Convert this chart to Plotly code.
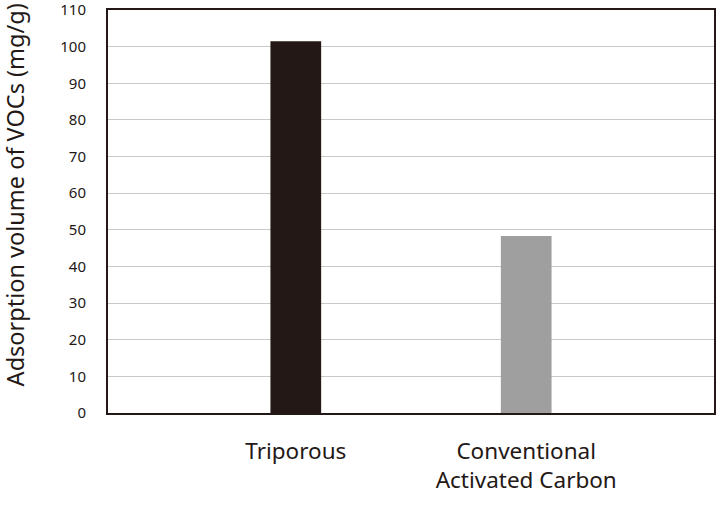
import plotly.graph_objects as go

categories = ["Triporous", "Conventional<br>Activated Carbon"]
values = [101.5, 48.3]
bar_colors = ["#231815", "#9f9f9f"]
y_ticks = [0, 10, 20, 30, 40, 50, 60, 70, 80, 90, 100, 110]
y_title = "Adsorption volume of VOCs (mg/g)"

FONT = "Noto Sans"
TXT = "#231815"

fig = go.Figure(go.Bar(
    x=[0, 1], y=values, marker=dict(color=bar_colors, line=dict(width=0)),
    width=0.22,
))

fig.update_layout(
    width=717, height=507,
    margin=dict(l=108, r=3, t=10, b=94),
    paper_bgcolor="white", plot_bgcolor="white",
    showlegend=False,
    font=dict(family=FONT, color=TXT),
)
fig.update_xaxes(
    range=[-0.815, 1.815], automargin=False,
    tickmode="array", tickvals=[0, 1], ticktext=categories,
    tickfont=dict(size=22.5, family=FONT, color=TXT),
    ticks="outside", ticklen=17, tickcolor="rgba(0,0,0,0)",
    showline=True, linecolor="#231815", linewidth=2, mirror=True,
    showgrid=False, zeroline=False,
)
fig.update_yaxes(
    range=[0, 110], automargin=False, ticklabeloverflow="allow",
    tickmode="array", tickvals=y_ticks,
    tickfont=dict(size=15, family=FONT, color=TXT),
    ticks="outside", ticklen=17, tickcolor="rgba(0,0,0,0)",
    showline=True, linecolor="#231815", linewidth=2, mirror=True,
    showgrid=True, gridcolor="#c8c8c8", gridwidth=1,
    zeroline=False,
)
fig.add_annotation(
    text=y_title, xref="paper", yref="paper",
    x=0, y=0.54, xanchor="center", yanchor="middle", xshift=-93,
    textangle=-90, showarrow=False,
    font=dict(size=23.5, family=FONT, color=TXT),
)
fig.write_html(
    "out.html",
    config={"displayModeBar": False},
    post_script="document.body.style.margin='0';document.body.style.overflow='hidden';",
)
